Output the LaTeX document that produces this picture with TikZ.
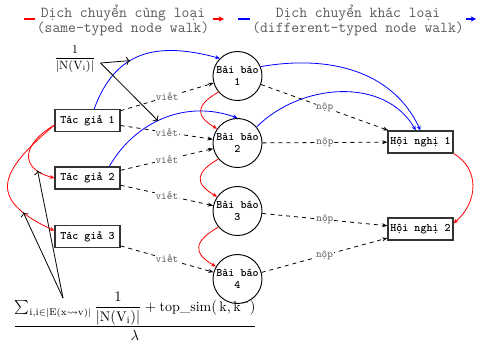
\documentclass[tikz,border=0pt]{standalone}
\usepackage{amsmath,amssymb}
\usepackage{fontspec}
\usetikzlibrary{arrows.meta}

\begin{document}
\begin{tikzpicture}[x=0.75pt,y=0.75pt,
  box/.style={draw=black!80,line width=0.9pt,fill=white,minimum width=48.75pt,minimum height=16.5pt,inner sep=1pt,font=\ttfamily\bfseries\fontsize{8.6}{9}\selectfont},
  paper/.style={circle,draw,line width=0.7pt,fill=white,minimum size=36.75pt,inner sep=0pt,align=center,font=\ttfamily\bfseries\fontsize{8.6}{8.5}\selectfont},
  rel/.style={dashed,line width=0.6pt,-{Stealth[length=4pt,width=3pt]}},
  lbl/.style={font=\ttfamily\fontsize{8}{8}\selectfont,text=black!60,fill=white,inner sep=0.5pt},
  same/.style={red,line width=0.6pt,-{Stealth[length=3.5pt,width=3pt]}},
  diff/.style={blue,line width=0.6pt,-{Stealth[length=3.5pt,width=3pt]}},
  legend/.style={font=\ttfamily\fontsize{11.4}{9.75}\selectfont,text=black!65,align=center}]
\useasboundingbox (0,0) rectangle (477,-344);

%legend
\node[legend] (lgsame) at (123,-20.5) {Dịch chuyển cùng loại\\(same-typed node walk)};
\node[legend] (lgdiff) at (358,-20.5) {Dịch chuyển khác loại\\(different-typed node walk)};
\draw[red,line width=1.2pt] (24,-19) -- (35,-19);
\draw[red,line width=1.2pt,-{Stealth[length=4pt,width=4pt]}] (213,-19) -- (224,-19);
\draw[blue,line width=1.2pt] (238,-19) -- (250,-19);
\draw[blue,line width=1.2pt,-{Stealth[length=4pt,width=4pt]}] (466,-19) -- (476,-19);

%authors
\node[box] (ta1) at (87.5,-120.5) {Tác giả 1};
\node[box] (ta2) at (87.5,-178) {Tác giả 2};
\node[box] (ta3) at (87.5,-236.5) {Tác giả 3};

%papers
\node[paper] (bb1) at (237.5,-76) {Bài báo\\1};
\node[paper] (bb2) at (237.5,-143) {Bài báo\\2};
\node[paper] (bb3) at (237.5,-211) {Bài báo\\3};
\node[paper] (bb4) at (237.5,-279) {Bài báo\\4};

%conferences
\node[box] (hn1) at (420.5,-142) {Hội nghị 1};
\node[box] (hn2) at (420.5,-229) {Hội nghị 2};

%write / submit
\draw[rel] (ta1) -- node[lbl] {viết} (bb1);
\draw[rel] (ta1) -- node[lbl] {viết} (bb2);
\draw[rel] (ta2) -- node[lbl] {viết} (bb2);
\draw[rel] (ta2) -- node[lbl] {viết} (bb3);
\draw[rel] (ta3) -- node[lbl] {viết} (bb4);
\draw[rel] (bb1) -- node[lbl] {nộp} (hn1);
\draw[rel] (bb2) -- node[lbl] {nộp} (hn1);
\draw[rel] (bb3) -- node[lbl] {nộp} (hn2);
\draw[rel] (bb4) -- node[lbl] {nộp} (hn2);

%same-typed walk
\draw[same] (ta1.188) to[out=210,in=165,looseness=1.8] coordinate[pos=0.8] (p3) (ta2.west);
\draw[same] (ta1.188) to[out=220,in=155,looseness=1.8] coordinate[pos=0.8] (p4) (ta3.170);
\draw[same] (bb1.220) to[out=210,in=150,looseness=1.8] (bb2.145);
\draw[same] (bb2.220) to[out=210,in=150,looseness=1.8] (bb3.145);
\draw[same] (bb3.220) to[out=210,in=150,looseness=1.8] (bb4.150);
\draw[same] (hn1.south east) to[out=-30,in=40,looseness=1.15] (hn2.10);

%different-typed walk
\draw[diff] (ta1.60) to[out=70,in=165,looseness=1.2] coordinate[pos=0.4] (p1) (bb1.135);
\draw[diff] (ta2.28) to[out=60,in=160] coordinate[pos=0.45] (p2) (bb2.north);
\draw[diff] (bb1.22) to[out=10,in=115] (hn1.north);
\draw[diff] (bb2.40) to[out=45,in=120] (hn1.112);

%weights
\node[font=\fontsize{9}{10}\selectfont] (finv) at (75,-59) {$\dfrac{1}{|\mathrm{N}(\mathrm{V}_\mathrm{i})|}$};
\draw[->,line width=0.6pt] ([yshift=-3pt]finv.east) -- (p1);
\draw[->,line width=0.6pt] ([yshift=-3pt]finv.east) -- (p2);

\node[font=\fontsize{10.5}{12}\selectfont] (fsum) at (135,-316) {$\dfrac{\sum_{\mathrm{i,i}\in|\mathrm{E}(\mathrm{x}\leadsto \mathrm{v})|}\dfrac{1}{|\mathrm{N}(\mathrm{V}_\mathrm{i})|}+\text{top\_sim}(\,\mathrm{k},\mathrm{k}^{-})}{\lambda}$};
\coordinate (fs) at (63,-298);
\draw[->,line width=0.6pt] (fs) -- (p3);
\draw[->,line width=0.6pt] (fs) -- (p4);

\end{tikzpicture}
\end{document}
